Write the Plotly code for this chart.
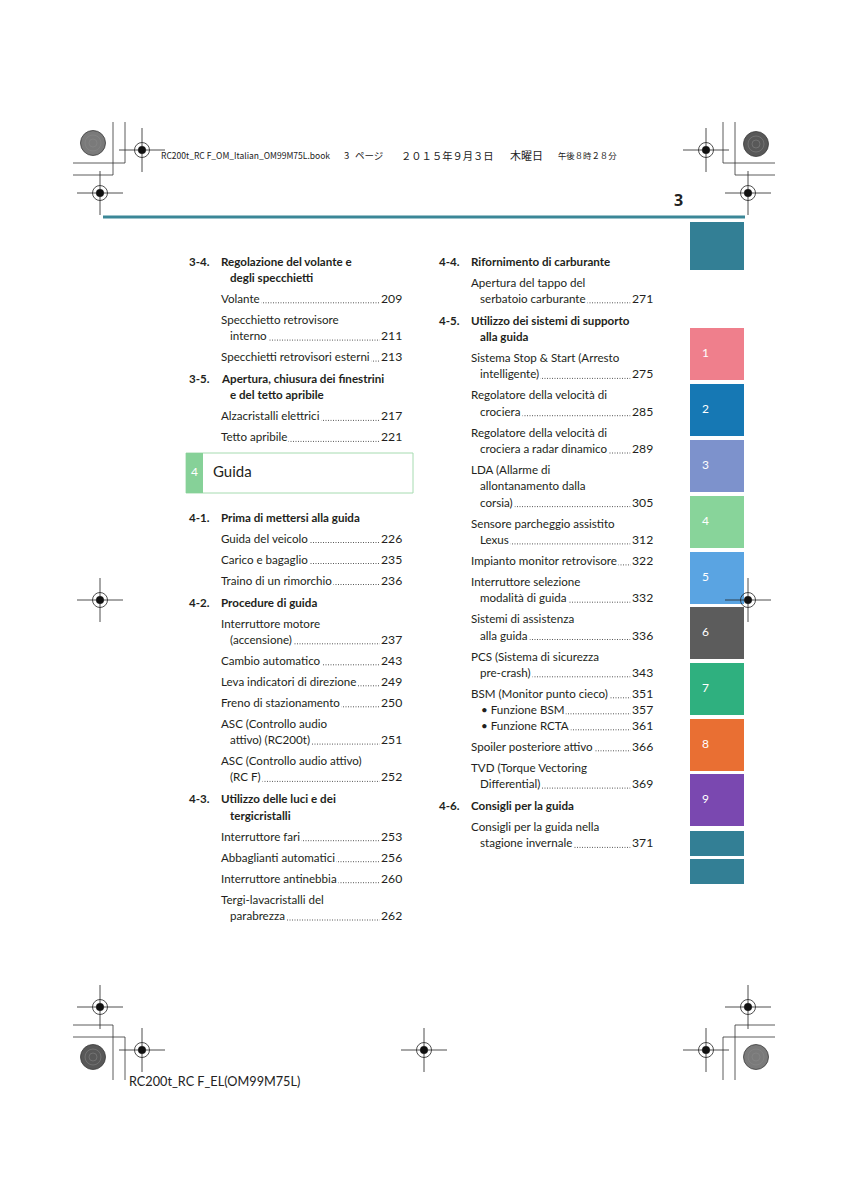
import plotly.graph_objects as go

# ---------------- data ----------------
header_parts = ["RC200t_RC F_OM_Italian_OM99M75L.book", "3", "ページ", "２０１５年９月３日", "木曜日", "午後８時２８分"]
page_number = "3"
footer_text = "RC200t_RC F_EL(OM99M75L)"

tab_labels = ["", "1", "2", "3", "4", "5", "6", "7", "8", "9", "", ""]
tab_colors = ["#337f95", "#ef7f8c", "#1678b4", "#7d92cc", "#88d49a", "#5aa4e2",
              "#5c5c5c", "#2fb07f", "#e96f33", "#7a48b0", "#337f95", "#337f95"]
tab_tops = [222, 328, 384, 440, 496, 552, 607, 663, 719, 774, 831, 859]
tab_heights = [48, 52, 52, 52, 52, 52, 52, 52, 52, 52, 25, 25]

chapter_num = "4"
chapter_title = "Guida"

# (kind, number, lines, page)   kind: h = heading, e = entry, b = bullet entry
left_part1 = [
    ("h", "3-4.", ["Regolazione del volante e", "degli specchietti"], None),
    ("e", None, ["Volante"], "209"),
    ("e", None, ["Specchietto retrovisore", "interno"], "211"),
    ("e", None, ["Specchietti retrovisori esterni"], "213"),
    ("h", "3-5.", ["Apertura, chiusura dei finestrini", "e del tetto apribile"], None),
    ("e", None, ["Alzacristalli elettrici"], "217"),
    ("e", None, ["Tetto apribile"], "221"),
]
left_part2 = [
    ("h", "4-1.", ["Prima di mettersi alla guida"], None),
    ("e", None, ["Guida del veicolo"], "226"),
    ("e", None, ["Carico e bagaglio"], "235"),
    ("e", None, ["Traino di un rimorchio"], "236"),
    ("h", "4-2.", ["Procedure di guida"], None),
    ("e", None, ["Interruttore motore", "(accensione)"], "237"),
    ("e", None, ["Cambio automatico"], "243"),
    ("e", None, ["Leva indicatori di direzione"], "249"),
    ("e", None, ["Freno di stazionamento"], "250"),
    ("e", None, ["ASC (Controllo audio", "attivo) (RC200t)"], "251"),
    ("e", None, ["ASC (Controllo audio attivo)", "(RC F)"], "252"),
    ("h", "4-3.", ["Utilizzo delle luci e dei", "tergicristalli"], None),
    ("e", None, ["Interruttore fari"], "253"),
    ("e", None, ["Abbaglianti automatici"], "256"),
    ("e", None, ["Interruttore antinebbia"], "260"),
    ("e", None, ["Tergi-lavacristalli del", "parabrezza"], "262"),
]
right_part = [
    ("h", "4-4.", ["Rifornimento di carburante"], None),
    ("e", None, ["Apertura del tappo del", "serbatoio carburante"], "271"),
    ("h", "4-5.", ["Utilizzo dei sistemi di supporto", "alla guida"], None),
    ("e", None, ["Sistema Stop & Start (Arresto", "intelligente)"], "275"),
    ("e", None, ["Regolatore della velocità di", "crociera"], "285"),
    ("e", None, ["Regolatore della velocità di", "crociera a radar dinamico"], "289"),
    ("e", None, ["LDA (Allarme di", "allontanamento dalla", "corsia)"], "305"),
    ("e", None, ["Sensore parcheggio assistito", "Lexus"], "312"),
    ("e", None, ["Impianto monitor retrovisore"], "322"),
    ("e", None, ["Interruttore selezione", "modalità di guida"], "332"),
    ("e", None, ["Sistemi di assistenza", "alla guida"], "336"),
    ("e", None, ["PCS (Sistema di sicurezza", "pre-crash)"], "343"),
    ("e", None, ["BSM (Monitor punto cieco)"], "351"),
    ("b", None, ["• Funzione BSM"], "357"),
    ("b", None, ["• Funzione RCTA"], "361"),
    ("e", None, ["Spoiler posteriore attivo"], "366"),
    ("e", None, ["TVD (Torque Vectoring", "Differential)"], "369"),
    ("h", "4-6.", ["Consigli per la guida"], None),
    ("e", None, ["Consigli per la guida nella", "stagione invernale"], "371"),
]

# ---------------- figure ----------------
W, H = 848, 1200
OFF = 8  # page body margin
FONT = "Lato"
TXT = "#231f20"
fig = go.Figure()
shapes = []
ann = []

def line(x0, y0, x1, y1, color="#333", width=0.8, dash=None):
    d = dict(type="line", x0=x0, y0=y0, x1=x1, y1=y1, xref="x", yref="y",
             line=dict(color=color, width=width))
    if dash:
        d["line"]["dash"] = dash
    shapes.append(d)

def circle(cx, cy, r, fill=None, color="#000", width=0.8):
    shapes.append(dict(type="circle", x0=cx - r, y0=cy - r, x1=cx + r, y1=cy + r,
                       xref="x", yref="y", fillcolor=fill if fill else "rgba(0,0,0,0)",
                       line=dict(color=color, width=width)))

def target(cx, cy):
    line(cx - 23, cy, cx + 23, cy, "#222", 0.8)
    line(cx, cy - 22, cx, cy + 22, "#222", 0.8)
    circle(cx, cy, 7.5, None, "#222", 0.8)
    circle(cx, cy, 3.8, "#111", "#111", 0.5)

def disc(cx, cy, fill):
    circle(cx, cy, 12.5, fill, "#3a3a3a", 0.8)
    circle(cx, cy, 8, None, "#8a8a8a", 0.5)
    circle(cx, cy, 4, None, "#8a8a8a", 0.5)

# registration marks
for (cx, cy) in [(142, 150), (706, 150), (100, 193), (748, 193), (100, 600), (748, 600),
                 (100, 1007), (748, 1007), (142, 1050), (424, 1050), (706, 1050)]:
    target(cx, cy)
disc(93, 143, "#7a7a7a")
disc(756, 144, "#585858")
disc(93, 1057, "#585858")
disc(756, 1057, "#7a7a7a")

# corner crop lines
for (xv, yh) in [(125, 163), (113, 175)]:
    line(xv, 122, xv, yh); line(73, yh, xv, yh)
    line(W - xv, 122, W - xv, yh); line(W - xv, yh, W - 73, yh)
    line(xv, H - yh, xv, 1080); line(73, H - yh, xv, H - yh)
    line(W - xv, H - yh, W - xv, 1080); line(W - xv, H - yh, W - 73, H - yh)

# header
hdr_x = [159, 342, 353, 399, 508, 556]
hdr_size = [8.5, 9.5, 9.5, 10.3, 11, 8.4]
for t, hx, hs in zip(header_parts, hdr_x, hdr_size):
    ann.append(dict(x=hx, y=155, text=t, xanchor="left", yanchor="middle",
                    font=dict(family="Noto Sans CJK JP", size=hs, color="#222"), showarrow=False))
ann.append(dict(x=678, y=200, text="<b>" + page_number + "</b>", xanchor="center", yanchor="middle",
                font=dict(family="Open Sans", size=16, color="#222"), showarrow=False))
line(103, 217, 745, 217, "#3b8797", 3)

# side tabs as bars
fig.add_trace(go.Bar(x=[717] * len(tab_labels), y=tab_heights, base=tab_tops, width=[54] * len(tab_labels),
                     marker=dict(color=tab_colors, line=dict(width=0)), hoverinfo="skip", showlegend=False))
for lab, top in zip(tab_labels, tab_tops):
    if lab:
        ann.append(dict(x=700, y=top + 24, text=lab, xanchor="left", yanchor="middle",
                        font=dict(family=FONT, size=12, color="white"), showarrow=False))

# chapter box
shapes.append(dict(type="rect", x0=186, y0=453, x1=413, y1=493, xref="x", yref="y",
                   fillcolor="white", line=dict(color="#a6dbb0", width=1), layer="below"))
shapes.append(dict(type="rect", x0=186, y0=453, x1=203, y1=493, xref="x", yref="y",
                   fillcolor="#86d198", line=dict(width=0), layer="below"))
ann.append(dict(x=194.5, y=471, text=chapter_num, xanchor="center", yanchor="middle",
                font=dict(family=FONT, size=12, color="white"), showarrow=False))
ann.append(dict(x=211, y=471, text=chapter_title, xanchor="left", yanchor="middle",
                font=dict(family=FONT, size=15, color=TXT), showarrow=False))

# table of contents
FS = 11.6
LH = 16.3

def column(items, y, xnum, xtext, xpage):
    first = True
    for kind, num, lines, page in items:
        if not first:
            y += 22 if kind == "h" else (16 if kind == "b" else 21)
        first = False
        if kind == "h":
            ann.append(dict(x=xnum, y=y, text="<b>" + num + "</b>", xanchor="left", yanchor="middle",
                            font=dict(family=FONT, size=FS, color=TXT), showarrow=False))
        for i, t in enumerate(lines):
            yy = y + i * LH
            xx = xtext + (9 if i > 0 else 0) + (10 if kind == "b" else 0)
            txt = "<b>" + t + "</b>" if kind == "h" else t
            last = i == len(lines) - 1
            ann.append(dict(x=xx, y=yy, text=txt, xanchor="left", yanchor="middle",
                            font=dict(family=FONT, size=FS, color=TXT), showarrow=False,
                            bgcolor="white" if (page and last) else None, borderpad=1))
            if page and last:
                line(xx + 4, yy + 4.5, xpage - 4, yy + 4.5, "#444", 0.9, "1px,1.5px")
                ann.append(dict(x=xpage, y=yy, text=page, xanchor="right", yanchor="middle",
                                font=dict(family=FONT, size=FS + 0.6, color=TXT), showarrow=False,
                                bgcolor="white", borderpad=1))
        y += (len(lines) - 1) * LH

column(left_part1, 261, 187, 219, 404)
column(left_part2, 517, 187, 219, 404)
column(right_part, 261, 437, 469, 655)

# footer
ann.append(dict(x=127, y=1081, text=footer_text, xanchor="left", yanchor="middle",
                font=dict(family=FONT, size=12.7, color="#222"), showarrow=False))

fig.update_layout(
    width=W - OFF, height=H - OFF, margin=dict(l=0, r=0, t=0, b=0),
    paper_bgcolor="white", plot_bgcolor="white",
    xaxis=dict(range=[OFF, W], visible=False, fixedrange=True),
    yaxis=dict(range=[H, OFF], visible=False, fixedrange=True),
    shapes=shapes, annotations=ann, bargap=0, showlegend=False,
)
fig.write_html("out.html")
